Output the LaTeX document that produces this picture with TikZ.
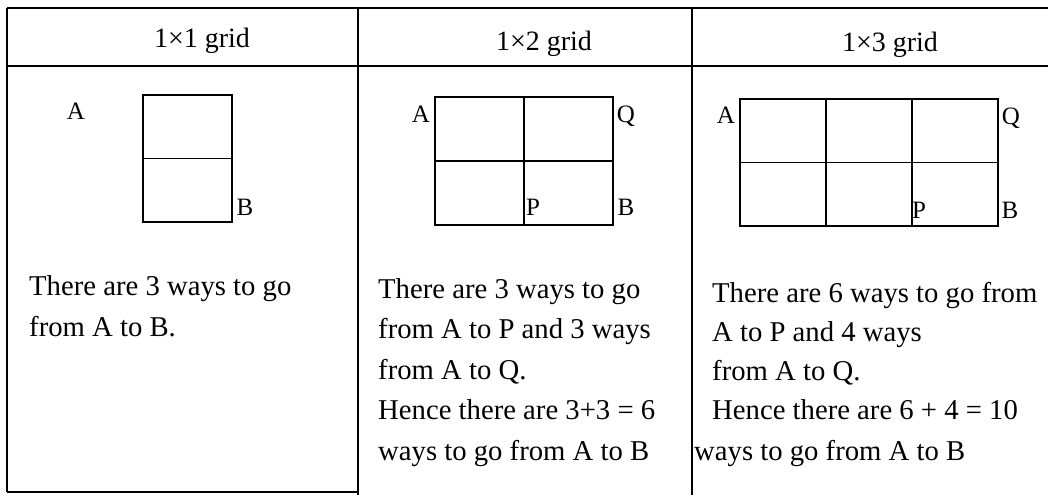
\documentclass[tikz,border=0pt]{standalone}
\usepackage{fontspec}
\setmainfont{Liberation Serif}
\usetikzlibrary{positioning,calc}
\tikzset{
	rule/.style={draw=black,line width=1.8pt},
	cell/.style={draw=black,line width=1.6pt},
	head/.style={font=\fontsize{28}{32}\selectfont,anchor=base,inner sep=0pt},
	body/.style={font=\fontsize{28.7}{40}\selectfont,anchor=base west,inner sep=0pt},
	corner/.style={font=\fontsize{25}{28}\selectfont,anchor=base,inner sep=0pt},
}

\begin{document}
\begin{tikzpicture}[x=1pt,y=-1pt]
	\useasboundingbox (0,0) rectangle (1048,495);
	% table frame
	\coordinate (tl) at (7,8); \coordinate (tr) at (1048,8);
	\coordinate (hl) at (7,66); \coordinate (hr) at (1048,66);
	\coordinate (bl) at (7,492); \coordinate (br) at (358,492);
	\coordinate (s1) at (358,8); \coordinate (s1b) at (358,495);
	\coordinate (s2) at (692,8); \coordinate (s2b) at (692,495);
	\foreach \u/\v in {tl/tr,hl/hr,tl/bl,bl/br,s1/s1b,s2/s2b}
	\draw[rule] (\u)--(\v);
	% headings
	\node[head] (h1) at (202,48) {1×1 grid};
	\node[head] (h2) at (544,50) {1×2 grid};
	\node[head] (h3) at (890,52) {1×3 grid};
	% grids
	\foreach \j in {0,1} \draw[cell] (143,95+63.5*\j) rectangle +(89,63.5);
	\foreach \i in {0,1} \foreach \j in {0,1}
	\draw[cell] (435+89*\i,97+64*\j) rectangle +(89,64);
	\foreach \i in {0,1,2} \foreach \j in {0,1}
	\draw[cell] (740+86*\i,99+63.5*\j) rectangle +(86,63.5);
	% corner letters
	\node[corner] (a1) at (76,119) {A};
	\node[corner] (b1) at (245,215) {B};
	\node[corner] (a2) at (421,122) {A};
	\node[corner] (q2) at (626,122) {Q};
	\node[corner] (p2) at (533,215) {P};
	\node[corner] (b2) at (626,215) {B};
	\node[corner] (a3) at (726,123) {A};
	\node[corner] (q3) at (1011,124) {Q};
	\node[corner] (p3) at (919,218) {P};
	\node[corner] (b3) at (1010,218) {B};
	% explanations
	\foreach \t [count=\k] in {There are 3 ways to go,from A to B.}
	\node[body] (t1-\k) at (29,295+41*\k-41) {\t};
	\foreach \t [count=\k] in {There are 3 ways to go,from A to P and 3 ways,from A to Q.,Hence there are 3+3 = 6,ways to go from A to B}
	\node[body] (t2-\k) at (378,298+40.5*\k-40.5) {\t};
	\foreach \t [count=\k] in {There are 6 ways to go from,A to P and 4 ways,from A to Q.,Hence there are 6 + 4 = 10}
	\node[body] (t3-\k) at (712,302+39*\k-39) {\t};
	\node[body] (t3-5) at (694,460) {ways to go from A to B};
\end{tikzpicture}
\end{document}
